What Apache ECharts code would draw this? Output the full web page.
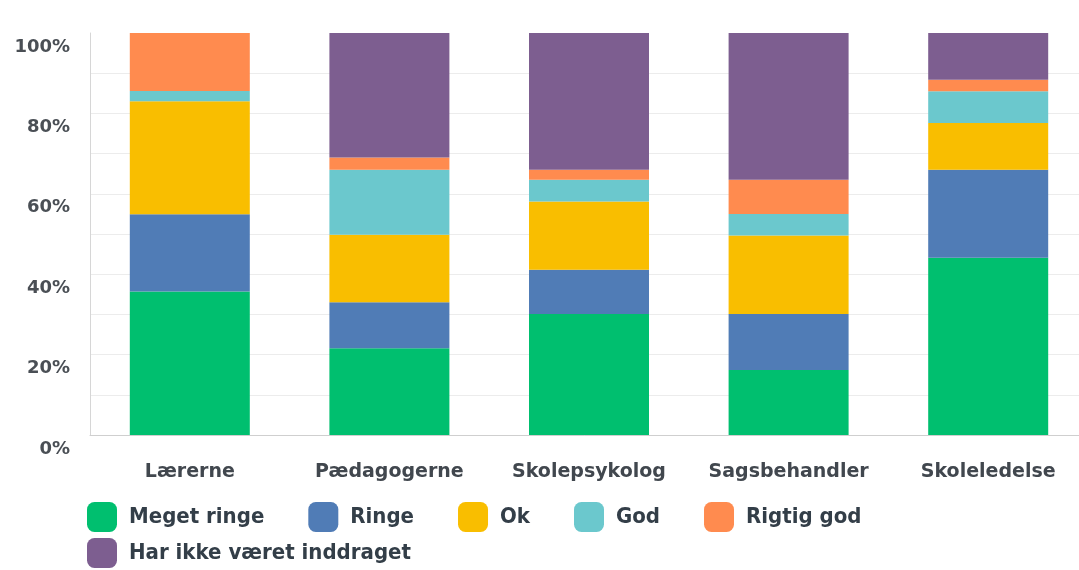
<!DOCTYPE html>
<html>
<head>
<meta charset="utf-8">
<script src="https://cdn.jsdelivr.net/npm/echarts@6/dist/echarts.min.js"></script>
<style>html,body{margin:0;padding:0;background:#fff}#c{width:1079px;height:570px}</style>
</head>
<body>
<div id="c"></div>
<script>
var categories = ['Lærerne', 'Pædagogerne', 'Skolepsykolog', 'Sagsbehandler', 'Skoleledelse'];
var seriesNames = ['Meget ringe', 'Ringe', 'Ok', 'God', 'Rigtig god', 'Har ikke været inddraget'];
var megetRinge = [35.7, 21.6, 30.1, 16.2, 44.1];
var ringe = [19.2, 11.4, 11.0, 13.9, 21.9];
var ok = [28.1, 16.8, 17.0, 19.5, 11.6];
var god = [2.6, 16.2, 5.4, 5.4, 7.9];
var rigtigGod = [14.4, 3.0, 2.5, 8.5, 2.9];
var harIkke = [0, 31.0, 34.0, 36.5, 11.6];
var colors = ['#00BF6F', '#507CB6', '#F9BE00', '#6BC8CD', '#FF8B4F', '#7D5E90'];

var values = [megetRinge, ringe, ok, god, rigtigGod, harIkke];
var chart = echarts.init(document.getElementById('c'));
var legendText = {fontFamily: 'DejaVu Sans Condensed', fontWeight: 'bold', fontSize: 22, color: '#333e48', padding: [0, 0, 0, 7]};
chart.setOption({
  animation: false,
  color: colors,
  grid: {left: 90, top: 33, width: 998, height: 402, outerBoundsMode: 'none', containLabel: false},
  legend: [
    {data: seriesNames.slice(0, 5), left: 87, top: 502, itemWidth: 30, itemHeight: 30, itemGap: 44, icon: 'roundRect', padding: 0, textStyle: legendText},
    {data: seriesNames.slice(5), left: 87, top: 538, itemWidth: 30, itemHeight: 30, itemGap: 44, icon: 'roundRect', padding: 0, textStyle: legendText}
  ],
  xAxis: {
    type: 'category', data: categories,
    axisLine: {lineStyle: {color: '#cfcfcf'}},
    axisTick: {show: false},
    axisLabel: {interval: 0, hideOverlap: false, margin: 28, fontFamily: 'DejaVu Sans', fontWeight: 'bold', fontSize: 19, color: '#41474e'}
  },
  yAxis: {
    type: 'value', min: 0, max: 100, interval: 10,
    axisLine: {show: true, lineStyle: {color: '#d6d6d6'}},
    axisTick: {show: false},
    splitLine: {showMaxLine: false, lineStyle: {color: '#ececec'}},
    axisLabel: {
      margin: 20, verticalAlign: 'top', padding: [5, 0, 0, 0],
      fontFamily: 'DejaVu Sans', fontWeight: 'bold', fontSize: 18, color: '#4a4f55',
      formatter: function (v) { return v % 20 === 0 ? v + '%' : ''; }
    }
  },
  series: values.map(function (d, i) {
    return {name: seriesNames[i], type: 'bar', stack: 'all', barWidth: 120, data: d};
  })
});
</script>
</body>
</html>
